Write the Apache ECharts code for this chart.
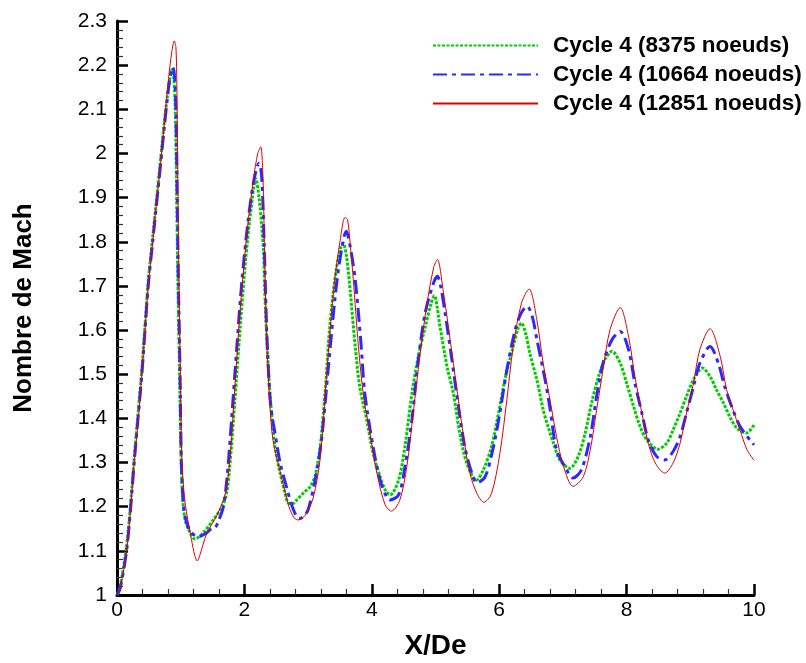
<!DOCTYPE html>
<html>
<head>
<meta charset="utf-8">
<script src="https://cdn.jsdelivr.net/npm/echarts@6/dist/echarts.min.js"></script>
<style>
html,body{margin:0;padding:0;background:#fff;}
#chart{width:806px;height:663px;}
</style>
</head>
<body>
<div id="chart"></div>
<script>
// Legend / series names
const seriesNames = ['Cycle 4 (8375 noeuds)', 'Cycle 4 (10664 noeuds)', 'Cycle 4 (12851 noeuds)'];

// Cycle 4 (8375 noeuds) : [X/De, Mach]
const mach8375 = [
[0,1.0],[0.05,1.02],[0.15,1.11],[0.21,1.2],[0.27,1.31],[0.33,1.41],[0.39,1.51],[0.44,1.61],[0.49,1.71],[0.56,1.81],[0.61,1.88],[0.68,1.98],[0.75,2.08],[0.81,2.15],[0.845,2.18],[0.865,2.19],[0.89,2.175],[0.915,2.1],[0.935,1.92],[0.955,1.72],[0.98,1.52],[1.005,1.32],[1.03,1.22],[1.07,1.17],[1.15,1.14],[1.22,1.127],[1.35,1.14],[1.51,1.17],[1.65,1.2],[1.72,1.23],[1.77,1.29],[1.85,1.44],[1.93,1.6],[2.02,1.76],[2.1,1.87],[2.18,1.943],[2.23,1.9],[2.27,1.84],[2.30,1.78],[2.33,1.65],[2.38,1.503],[2.43,1.404],[2.48,1.336],[2.56,1.276],[2.64,1.23],[2.69,1.208],[2.76,1.207],[2.82,1.215],[2.92,1.23],[3.03,1.245],[3.11,1.27],[3.19,1.336],[3.27,1.465],[3.34,1.608],[3.42,1.714],[3.5,1.782],[3.55,1.797],[3.6,1.77],[3.66,1.69],[3.74,1.563],[3.81,1.472],[3.92,1.397],[4.02,1.321],[4.13,1.268],[4.22,1.235],[4.29,1.227],[4.42,1.26],[4.52,1.336],[4.63,1.457],[4.73,1.54],[4.84,1.608],[4.93,1.66],[4.98,1.678],[5.07,1.608],[5.18,1.518],[5.28,1.457],[5.38,1.367],[5.49,1.299],[5.64,1.26],[5.75,1.283],[5.88,1.336],[5.99,1.412],[6.09,1.488],[6.22,1.563],[6.3,1.605],[6.35,1.616],[6.42,1.59],[6.48,1.548],[6.59,1.488],[6.69,1.42],[6.77,1.38],[6.85,1.345],[6.95,1.306],[7.11,1.287],[7.24,1.314],[7.35,1.367],[7.45,1.435],[7.56,1.495],[7.66,1.533],[7.77,1.552],[7.9,1.525],[8.0,1.48],[8.11,1.427],[8.21,1.382],[8.32,1.351],[8.49,1.33],[8.63,1.344],[8.73,1.374],[8.84,1.412],[8.94,1.45],[9.05,1.488],[9.19,1.514],[9.31,1.495],[9.41,1.465],[9.52,1.435],[9.62,1.404],[9.73,1.378],[9.88,1.367],[10,1.385]
];

// Cycle 4 (10664 noeuds)
const mach10664 = [
[0,1.0],[0.05,1.015],[0.15,1.10],[0.21,1.19],[0.27,1.30],[0.33,1.40],[0.39,1.50],[0.44,1.60],[0.49,1.70],[0.56,1.80],[0.61,1.87],[0.68,1.97],[0.75,2.07],[0.81,2.15],[0.85,2.185],[0.875,2.195],[0.9,2.18],[0.925,2.1],[0.945,1.9],[0.965,1.7],[0.99,1.5],[1.01,1.3],[1.04,1.21],[1.07,1.177],[1.15,1.145],[1.27,1.132],[1.4,1.14],[1.48,1.15],[1.54,1.152],[1.6,1.17],[1.67,1.2],[1.73,1.27],[1.8,1.4],[1.88,1.56],[1.96,1.71],[2.06,1.85],[2.15,1.94],[2.23,1.978],[2.27,1.95],[2.31,1.8],[2.35,1.6],[2.4,1.45],[2.44,1.4],[2.48,1.367],[2.56,1.30],[2.66,1.245],[2.77,1.193],[2.86,1.173],[2.93,1.178],[3.0,1.193],[3.11,1.26],[3.21,1.351],[3.32,1.518],[3.42,1.669],[3.5,1.76],[3.6,1.824],[3.66,1.79],[3.74,1.714],[3.83,1.57],[3.89,1.457],[4.02,1.336],[4.13,1.26],[4.23,1.223],[4.28,1.215],[4.42,1.227],[4.52,1.29],[4.63,1.397],[4.73,1.533],[4.84,1.64],[4.97,1.707],[5.03,1.722],[5.08,1.7],[5.15,1.639],[5.25,1.54],[5.36,1.427],[5.46,1.336],[5.57,1.276],[5.65,1.254],[5.78,1.268],[5.91,1.336],[6.01,1.412],[6.12,1.51],[6.25,1.6],[6.35,1.64],[6.44,1.654],[6.52,1.63],[6.59,1.58],[6.72,1.488],[6.80,1.42],[6.90,1.329],[7.03,1.291],[7.16,1.265],[7.29,1.283],[7.43,1.359],[7.53,1.45],[7.63,1.525],[7.77,1.578],[7.9,1.597],[8.03,1.556],[8.13,1.48],[8.24,1.412],[8.34,1.351],[8.47,1.314],[8.6,1.306],[8.73,1.325],[8.84,1.359],[8.94,1.412],[9.05,1.472],[9.15,1.525],[9.31,1.563],[9.44,1.525],[9.54,1.472],[9.65,1.427],[9.78,1.382],[10,1.34]
];

// Cycle 4 (12851 noeuds)
const mach12851 = [
[0,1.0],[0.05,1.015],[0.15,1.10],[0.21,1.19],[0.27,1.30],[0.33,1.39],[0.39,1.50],[0.44,1.60],[0.49,1.70],[0.56,1.80],[0.62,1.89],[0.68,1.97],[0.75,2.08],[0.81,2.17],[0.86,2.23],[0.9,2.255],[0.925,2.24],[0.94,2.15],[0.955,1.95],[0.97,1.75],[0.995,1.5],[1.02,1.3],[1.06,1.22],[1.1,1.18],[1.17,1.125],[1.22,1.09],[1.26,1.077],[1.3,1.09],[1.41,1.14],[1.56,1.178],[1.7,1.23],[1.78,1.32],[1.85,1.47],[1.93,1.64],[2.04,1.82],[2.14,1.94],[2.21,2.0],[2.256,2.015],[2.29,1.95],[2.32,1.75],[2.35,1.58],[2.40,1.43],[2.45,1.35],[2.56,1.28],[2.7,1.2],[2.78,1.175],[2.85,1.17],[2.95,1.18],[3.08,1.22],[3.19,1.31],[3.29,1.5],[3.40,1.69],[3.50,1.80],[3.58,1.855],[3.62,1.85],[3.67,1.78],[3.71,1.714],[3.79,1.563],[3.87,1.45],[3.97,1.367],[4.08,1.276],[4.21,1.204],[4.31,1.19],[4.44,1.215],[4.55,1.291],[4.65,1.412],[4.76,1.548],[4.86,1.654],[4.97,1.741],[5.03,1.76],[5.12,1.69],[5.23,1.578],[5.33,1.472],[5.44,1.359],[5.54,1.276],[5.65,1.23],[5.76,1.21],[5.88,1.23],[6.01,1.32],[6.12,1.442],[6.22,1.563],[6.35,1.661],[6.47,1.693],[6.59,1.624],[6.69,1.525],[6.80,1.44],[6.90,1.359],[7.01,1.291],[7.16,1.246],[7.32,1.268],[7.43,1.329],[7.53,1.42],[7.63,1.51],[7.74,1.601],[7.9,1.651],[8.03,1.586],[8.13,1.495],[8.24,1.412],[8.34,1.344],[8.45,1.299],[8.6,1.276],[8.73,1.299],[8.84,1.344],[8.94,1.412],[9.05,1.48],[9.15,1.556],[9.31,1.603],[9.47,1.54],[9.57,1.465],[9.67,1.42],[9.78,1.374],[9.89,1.329],[10,1.305]
];

const FONT = '"Liberation Sans", Arial, Helvetica, sans-serif';
const chart = echarts.init(document.getElementById('chart'), null, {renderer: 'canvas'});

const axisCommon = {
  axisLine: {show: true, onZero: false, lineStyle: {color: '#000', width: 3}},
  axisTick: {show: true, inside: true, length: 11, lineStyle: {color: '#000', width: 2.5}},
  minorTick: {show: true, splitNumber: 5, length: 6, lineStyle: {color: '#333', width: 1.2}},
  splitLine: {show: false},
  minorSplitLine: {show: false}
};

chart.setOption({
  animation: false,
  backgroundColor: '#fff',
  grid: {left: 117, right: 52, top: 21, bottom: 68, containLabel: false, outerBoundsMode: 'none'},
  legend: {
    orient: 'vertical',
    left: 432,
    top: 34,
    padding: 0,
    itemWidth: 105,
    itemHeight: 14,
    itemGap: 6,
    data: seriesNames,
    itemStyle: {opacity: 0},
    textStyle: {fontFamily: FONT, fontWeight: 'bold', fontSize: 22.5, color: '#000', padding: [0, 0, 0, 10]}
  },
  xAxis: Object.assign({
    type: 'value', min: 0, max: 10, interval: 2,
    name: 'X/De', nameLocation: 'middle', nameGap: 37,
    nameTextStyle: {fontFamily: FONT, fontWeight: 'bold', fontSize: 28, color: '#000'},
    axisLabel: {fontFamily: FONT, fontSize: 21, color: '#000', margin: 5}
  }, axisCommon),
  yAxis: Object.assign({
    type: 'value', min: 1, max: 2.3, interval: 0.1,
    name: 'Nombre de Mach', nameLocation: 'middle', nameGap: 80,
    nameTextStyle: {fontFamily: FONT, fontWeight: 'bold', fontSize: 26, color: '#000'},
    axisLabel: {fontFamily: FONT, fontSize: 21, color: '#000', margin: 10,
      formatter: v => String(+v.toFixed(1))}
  }, axisCommon),
  series: [
    {name: seriesNames[0], type: 'line', data: mach8375, showSymbol: false, symbol: 'none',
     smooth: 0.3,
     lineStyle: {color: '#00cc00', width: 3, type: [3, 1.5]}, itemStyle: {color: '#00cc00'}, z: 2},
    {name: seriesNames[1], type: 'line', data: mach10664, showSymbol: false, symbol: 'none',
     smooth: 0.3,
     lineStyle: {color: '#2a2aff', width: 3, type: [14, 5, 4, 5]}, itemStyle: {color: '#2a2aff'}, z: 3},
    {name: seriesNames[2], type: 'line', data: mach12851, showSymbol: false, symbol: 'none',
     smooth: 0.3,
     lineStyle: {color: '#dd0000', width: 1}, itemStyle: {color: '#dd0000'}, z: 4}
  ]
});
</script>
</body>
</html>
